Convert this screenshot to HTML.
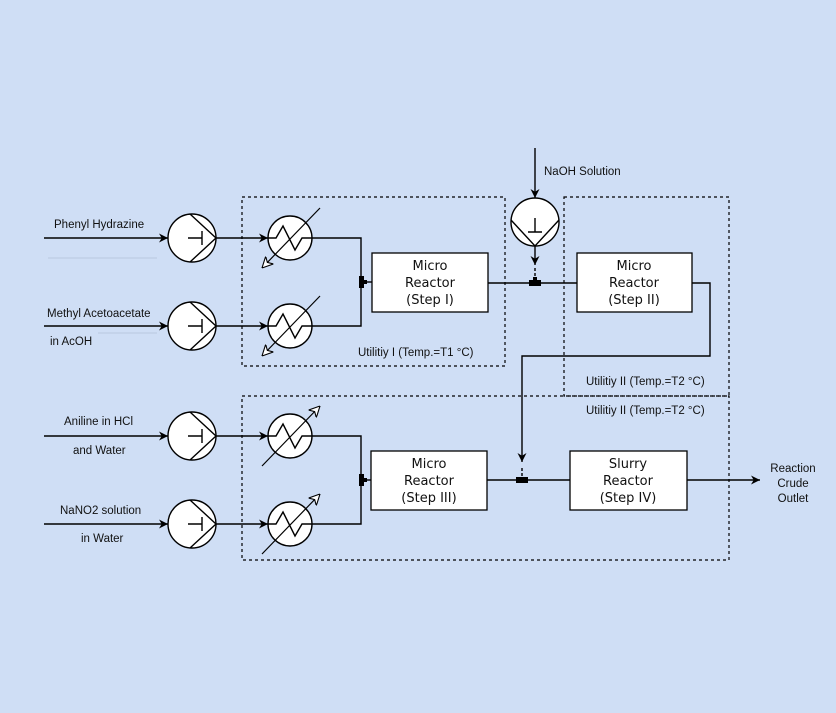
<!DOCTYPE html>
<html><head><style>html,body{margin:0;padding:0;background:#cfdef5;}svg{display:block}</style></head><body>
<svg width="836" height="713" viewBox="0 0 836 713" xmlns="http://www.w3.org/2000/svg" font-family="Liberation Sans, sans-serif">
<defs>
<marker id="a" viewBox="0 0 10 10" refX="10" refY="5" markerWidth="9" markerHeight="9" orient="auto" markerUnits="userSpaceOnUse"><path d="M0,0 L10,5 L0,10 L3,5 z" fill="#000"/></marker>
<marker id="o" viewBox="0 0 10 10" refX="10" refY="5" markerWidth="11" markerHeight="11" orient="auto" markerUnits="userSpaceOnUse"><path d="M0,0 L10,5 L0,10 L3,5 z" fill="#fff" stroke="#000" stroke-width="1"/></marker>
<g id="pump"><circle r="24" fill="#fff" stroke="#000" stroke-width="1.4"/><path d="M-2,-24 L24,0 L-2,24" fill="none" stroke="#000" stroke-width="1.4"/><path d="M-4,0 H10 M10,-7 V7" stroke="#000" stroke-width="1.4"/></g>
<g id="hx"><circle r="22" fill="#fff" stroke="#000" stroke-width="1.4"/><path d="M-22,0 H-14 L-7,-12 L5,12 L12,0 H22" fill="none" stroke="#000" stroke-width="1.4"/></g>
</defs>
<g fill="none" stroke="#000" stroke-width="1.2" stroke-dasharray="3,3">
<rect x="242" y="197" width="263" height="169"/>
<rect x="564" y="197" width="165" height="199"/>
<rect x="242" y="396" width="487" height="164"/>
</g>
<g stroke="#000" stroke-width="1.4" fill="none">
<line x1="44" y1="238" x2="168" y2="238" marker-end="url(#a)"/>
<line x1="44" y1="326" x2="168" y2="326" marker-end="url(#a)"/>
<line x1="44" y1="436" x2="168" y2="436" marker-end="url(#a)"/>
<line x1="44" y1="524" x2="168" y2="524" marker-end="url(#a)"/>
<line x1="216" y1="238" x2="268" y2="238" marker-end="url(#a)"/>
<line x1="216" y1="326" x2="268" y2="326" marker-end="url(#a)"/>
<line x1="216" y1="436" x2="268" y2="436" marker-end="url(#a)"/>
<line x1="216" y1="524" x2="268" y2="524" marker-end="url(#a)"/>
<path d="M312,238 H361 V326 H312"/>
<path d="M312,436 H361 V524 H312"/>
<line x1="361" y1="282" x2="372" y2="282"/>
<line x1="361" y1="480" x2="371" y2="480"/>
<path d="M488,283 H577"/>
<path d="M692,283 H710 V356 H522 V462" marker-end="url(#a)"/>
<path d="M487,480 H570"/>
<line x1="687" y1="480" x2="760" y2="480" marker-end="url(#a)"/>
<line x1="535" y1="148" x2="535" y2="198" marker-end="url(#a)"/>
<line x1="535" y1="246" x2="535" y2="265" marker-end="url(#a)"/>
<line x1="535" y1="268" x2="535" y2="280" stroke-dasharray="3,2"/>
<line x1="522" y1="468" x2="522" y2="478" stroke-dasharray="3,2"/>
</g>
<g fill="#000">
<rect x="359" y="276" width="5" height="12"/>
<rect x="364" y="280" width="3" height="4"/>
<rect x="529" y="280" width="12" height="6"/>
<rect x="533" y="277" width="4" height="3"/>
<rect x="359" y="474" width="5" height="12"/>
<rect x="364" y="478" width="3" height="4"/>
<rect x="516" y="477" width="12" height="6"/>
</g>
<use href="#pump" x="192" y="238"/>
<use href="#pump" x="192" y="326"/>
<use href="#pump" x="192" y="436"/>
<use href="#pump" x="192" y="524"/>
<g transform="translate(535,222) rotate(90)"><circle r="24" fill="#fff" stroke="#000" stroke-width="1.4"/><path d="M-2,-24 L24,0 L-2,24" fill="none" stroke="#000" stroke-width="1.4"/><path d="M-4,0 H10 M10,-7 V7" stroke="#000" stroke-width="1.4"/></g>
<use href="#hx" x="290" y="238"/>
<use href="#hx" x="290" y="326"/>
<use href="#hx" x="290" y="436"/>
<use href="#hx" x="290" y="524"/>
<g stroke="#000" stroke-width="1.2">
<line x1="320" y1="208" x2="262" y2="268" marker-end="url(#o)"/>
<line x1="320" y1="296" x2="262" y2="356" marker-end="url(#o)"/>
<line x1="262" y1="466" x2="320" y2="406" marker-end="url(#o)"/>
<line x1="262" y1="554" x2="320" y2="494" marker-end="url(#o)"/>
</g>
<g fill="#fff" stroke="#000" stroke-width="1.3">
<rect x="372" y="253" width="116" height="59"/>
<rect x="577" y="253" width="115" height="59"/>
<rect x="371" y="451" width="116" height="59"/>
<rect x="570" y="451" width="117" height="59"/>
</g>
<g font-family="DejaVu Sans, sans-serif" font-size="13" text-anchor="middle" fill="#111">
<text x="430" y="270">Micro</text><text x="430" y="287">Reactor</text><text x="430" y="304">(Step I)</text>
<text x="634" y="270">Micro</text><text x="634" y="287">Reactor</text><text x="634" y="304">(Step II)</text>
<text x="429" y="468">Micro</text><text x="429" y="485">Reactor</text><text x="429" y="502">(Step III)</text>
<text x="628" y="468">Slurry</text><text x="628" y="485">Reactor</text><text x="628" y="502">(Step IV)</text>
</g>
<g font-size="11.5" fill="#111">
<text x="54" y="228">Phenyl Hydrazine</text>
<text x="47" y="317">Methyl Acetoacetate</text>
<text x="50" y="345">in AcOH</text>
<text x="64" y="425">Aniline in HCl</text>
<text x="73" y="454">and Water</text>
<text x="60" y="514">NaNO2 solution</text>
<text x="81" y="542">in Water</text>
<text x="544" y="175">NaOH Solution</text>
<text x="358" y="356">Utilitiy I (Temp.=T1 °C)</text>
<text x="586" y="385">Utilitiy II (Temp.=T2 °C)</text>
<text x="586" y="414">Utilitiy II (Temp.=T2 °C)</text>
<text x="793" y="472" text-anchor="middle">Reaction</text>
<text x="793" y="487" text-anchor="middle">Crude</text>
<text x="793" y="502" text-anchor="middle">Outlet</text>
</g>
<g stroke="#b8c8e0" stroke-width="1"><line x1="48" y1="258" x2="157" y2="258"/><line x1="98" y1="333" x2="157" y2="333"/></g>
</svg>
</body></html>
